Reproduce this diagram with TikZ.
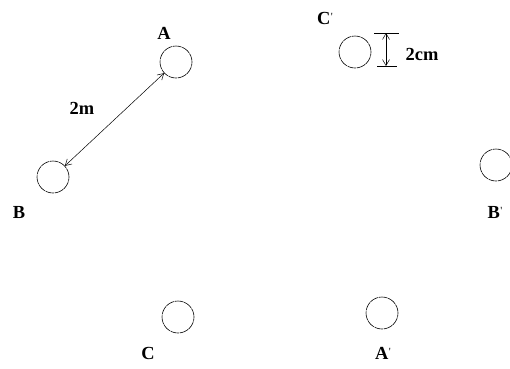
\documentclass[tikz,border=0pt]{standalone}
\usepackage{fontspec}
\setmainfont{Liberation Serif}
\usetikzlibrary{arrows.meta}
\newcommand{\pr}{\raisebox{0.45ex}{\fontsize{11}{11}\selectfont\mdseries\kern0.3pt\textquotesingle}}
\begin{document}
\begin{tikzpicture}[x=1bp,y=-1bp,
  ring/.style={circle,draw=black,line width=0.6pt,minimum size=32bp,inner sep=0pt,dash pattern=on 9pt off 0.7pt},
  lbl/.style={inner sep=0pt,font=\fontsize{18.5}{20}\selectfont\bfseries},
  dim/.style={line width=0.5pt,{Straight Barb[length=6bp,width=7bp]}-{Straight Barb[length=6bp,width=7bp]}}]
\useasboundingbox (0,0) rectangle (510,368);
% circles
\node[ring] (cA) at (176,62) {};
\node[ring] (cB) at (53,177) {};
\node[ring] (cC) at (178,317) {};
\node[ring] (cAp) at (382,313) {};
\node[ring] (cBp) at (496,165) {};
\node[ring] (cCp) at (355,52) {};
% labels
\node[lbl] (lA) at (164,33) {A};
\node[lbl] (lB) at (19,212) {B};
\node[lbl] (lC) at (148,353) {C};
\node[lbl] (lAp) at (383,353) {A\pr};
\node[lbl] (lBp) at (495,212) {B\pr};
\node[lbl] (lCp) at (325,18) {C\pr};
\node[lbl] (l2m) at (82,108) {2m};
\node[lbl] (l2cm) at (422,54) {2cm};
% distance arrow
\draw[dim] (cA) -- (cB);
% 2cm dimension
\coordinate (t1) at (374,33);
\coordinate (t2) at (399,33);
\coordinate (b1) at (377,66);
\coordinate (b2) at (397,66);
\coordinate (vt) at (386,33);
\coordinate (vb) at (386,66);
\draw[line width=0.6pt] (t1) -- (t2);
\draw[line width=0.6pt] (b1) -- (b2);
\draw[dim] (vt) -- (vb);
\end{tikzpicture}
\end{document}
